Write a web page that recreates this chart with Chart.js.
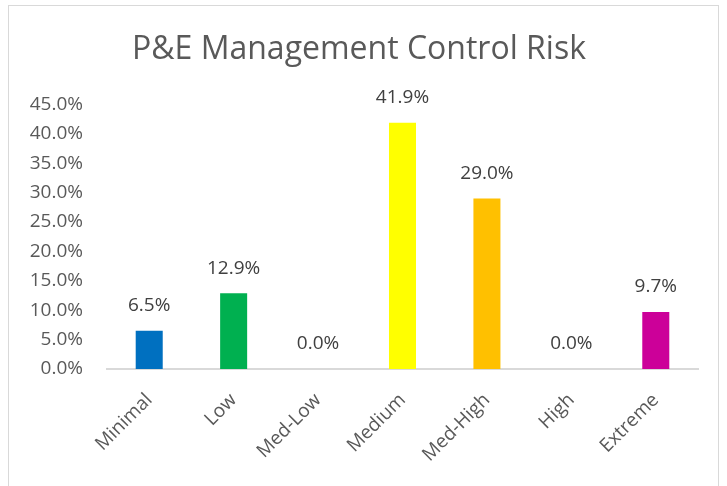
<!DOCTYPE html>
<html>
<head>
<meta charset="utf-8">
<script src="https://cdn.jsdelivr.net/npm/chart.js@4.4.1/dist/chart.umd.min.js"></script>
<style>
  html, body { margin: 0; padding: 0; background: #fff; overflow: hidden; }
  #frame { position: absolute; left: 8px; top: 5px; width: 709px; height: 600px; border: 1px solid #d9d9d9; }
  #wrap { position: absolute; left: 0; top: 0; width: 727px; height: 486px; }
</style>
</head>
<body>
<div id="frame"></div>
<div id="wrap"><canvas id="riskChart"></canvas></div>
<script>
var categories = ["Minimal", "Low", "Med-Low", "Medium", "Med-High", "High", "Extreme"];
var riskPercent = [6.5, 12.9, 0.0, 41.9, 29.0, 0.0, 9.7];
var barColors = ["#0070C0", "#00B050", "#A5A5A5", "#FFFF00", "#FFC000", "#ED7D31", "#CC0099"];
var yTicks = [0, 5, 10, 15, 20, 25, 30, 35, 40, 45];

var fontFamily = "'Open Sans', 'Noto Sans', sans-serif";

// draws the value label above each bar
var valueLabels = {
    id: 'valueLabels',
    afterDatasetsDraw: function(chart) {
        var ctx = chart.ctx;
        var meta = chart.getDatasetMeta(0);
        ctx.save();
        ctx.font = "19px " + fontFamily;
        ctx.fillStyle = "#404040";
        ctx.textAlign = "center";
        ctx.textBaseline = "middle";
        meta.data.forEach(function(bar, i) {
            ctx.fillText(riskPercent[i].toFixed(1) + "%", bar.x, bar.y - 25);
        });
        ctx.restore();
    }
};

new Chart(document.getElementById("riskChart"), {
    type: 'bar',
    data: {
        labels: categories,
        datasets: [{
            data: riskPercent,
            backgroundColor: barColors,
            borderWidth: 0,
            barPercentage: 0.32,
            categoryPercentage: 1.0
        }]
    },
    plugins: [valueLabels],
    options: {
        responsive: true,
        maintainAspectRatio: false,
        animation: false,
        layout: { padding: { left: 20, right: 29, top: 0, bottom: 0 } },
        plugins: {
            legend: { display: false },
            tooltip: { enabled: false },
            title: {
                display: true,
                text: "P&E Management Control Risk",
                color: "#595959",
                font: { family: fontFamily, size: 32, weight: 'normal' },
                padding: { top: 31, bottom: 35 }
            }
        },
        scales: {
            x: {
                grid: { display: false },
                border: { display: true, color: "#d9d9d9", width: 2 },
                ticks: {
                    color: "#595959",
                    font: { family: fontFamily, size: 19 },
                    minRotation: 45,
                    maxRotation: 45,
                    padding: 12
                },
                afterFit: function(scale) { scale.height = 117; }
            },
            y: {
                min: 0,
                max: 45,
                grid: { display: false },
                border: { display: false },
                afterBuildTicks: function(scale) {
                    scale.ticks = yTicks.map(function(v) { return { value: v }; });
                },
                ticks: {
                    color: "#595959",
                    font: { family: fontFamily, size: 19 },
                    padding: 16,
                    callback: function(v) { return v.toFixed(1) + "%"; }
                },
                afterFit: function(scale) { scale.width = 87; }
            }
        }
    }
});
</script>
</body>
</html>
